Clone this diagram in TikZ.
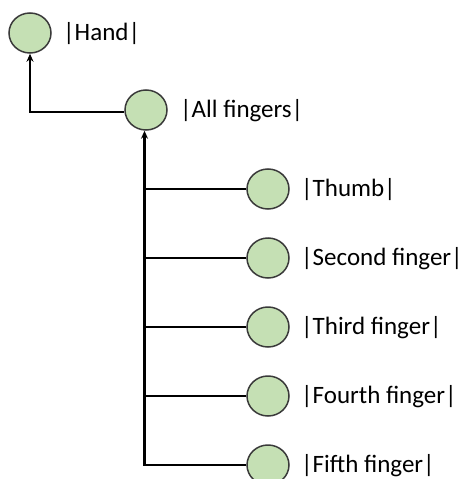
\documentclass[tikz,border=0pt]{standalone}
\usepackage{fontspec}
\setmainfont{Carlito}
\usetikzlibrary{shapes.geometric,arrows.meta}
\definecolor{leaf}{HTML}{C5E0B4}
\definecolor{rim}{HTML}{3A3A3A}
\tikzset{
  dot/.style={ellipse,draw=rim,line width=1.5pt,fill=leaf,minimum width=42pt,minimum height=40pt,inner sep=0pt},
  lbl/.style={anchor=west,inner sep=0pt,font=\fontsize{25}{29}\selectfont},
  wire/.style={line width=2.6pt,black},
  arr/.style={wire,-{Stealth[length=8pt,width=7pt]}}
}
\begin{document}
\begin{tikzpicture}[x=1pt,y=-1pt]
\useasboundingbox (0,0) rectangle (467,479);
\clip (0,0) rectangle (467,479);
\node[dot] (hand) at (30,33) {};
\node[dot] (all) at (146,110) {};
\node[dot] (thumb) at (268,189) {};
\node[dot] (second) at (268,258) {};
\node[dot] (third) at (268,327) {};
\node[dot] (fourth) at (268,396) {};
\node[dot] (fifth) at (268,465) {};
\node[lbl] (handl) at (63,34) {|Hand|};
\node[lbl] (alll) at (180,111) {|All fingers|};
\node[lbl] (thumbl) at (301,190) {|Thumb|};
\node[lbl] (secondl) at (301,259) {|Second finger|};
\node[lbl] (thirdl) at (301,328) {|Third finger|};
\node[lbl] (fourthl) at (301,397) {|Fourth finger|};
\node[lbl] (fifthl) at (301,466) {|Fifth finger|};
\draw[arr] ([yshift=-2pt]all.west) -| (hand.south);
\draw[arr] (fifth.west) -| ([xshift=-1.5pt]all.south);
\foreach \n in {thumb,second,third,fourth}
  \draw[wire] (\n.west) -- (\n.west -| 144.5,0);
\end{tikzpicture}
\end{document}
